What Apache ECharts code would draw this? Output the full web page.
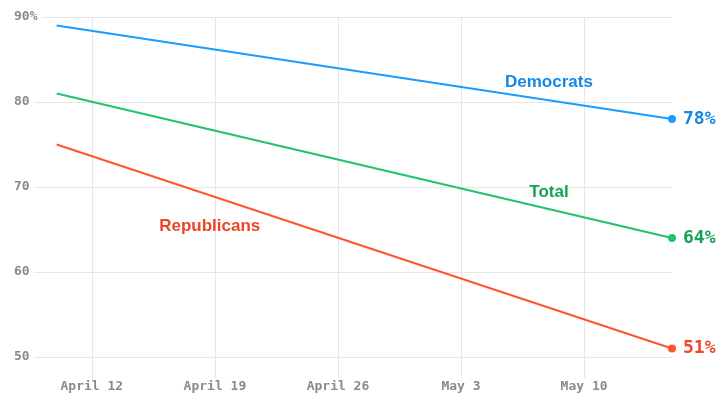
<!DOCTYPE html>
<html>
<head>
<meta charset="utf-8">
<script src="https://cdn.jsdelivr.net/npm/echarts@6/dist/echarts.min.js"></script>
<style>
  html, body { margin: 0; padding: 0; background: #fff; }
  #chart { width: 725px; height: 394px; }
</style>
</head>
<body>
<div id="chart"></div>
<script>
// Poll dates and support shares (%)
const pollDates = ['2020-04-10', '2020-05-15'];
const democrats = [89, 78];
const total = [81, 64];
const republicans = [75, 51];

// X-axis ticks
const tickDates = ['2020-04-12', '2020-04-19', '2020-04-26', '2020-05-03', '2020-05-10'];
const tickLabels = ['April 12', 'April 19', 'April 26', 'May 3', 'May 10'];

// Y-axis ticks
const yTicks = [50, 60, 70, 80, 90];

// Series name labels: [date, hour, value] anchors
const nameAnchors = {
  Democrats: ['2020-05-08', 0, 82.35],
  Total: ['2020-05-08', 0, 69.35],
  Republicans: ['2020-04-18', 17, 65.35]
};

const DAY = 86400000;
const origin = Date.UTC(2020, 3, 1);
const toDay = (s, hour) => {
  const [y, m, d] = s.split('-').map(Number);
  return (Date.UTC(y, m - 1, d, hour || 0) - origin) / DAY;
};
const tickDays = tickDates.map(d => toDay(d));
const labelByDay = {};
tickDays.forEach((d, i) => { labelByDay[d] = tickLabels[i]; });

const COLORS = {
  Democrats: { line: '#1a9bff', text: '#1787e6' },
  Total: { line: '#1fc46c', text: '#15a158' },
  Republicans: { line: '#ff5432', text: '#ef4526' }
};

function buildSeries(name, values) {
  const c = COLORS[name];
  const last = values.length - 1;
  const a = nameAnchors[name];
  return {
    name: name,
    type: 'line',
    data: values.map((v, i) => ({
      value: [toDay(pollDates[i]), v],
      symbol: i === last ? 'circle' : 'none',
      label: i === last ? {
        show: true,
        position: 'right',
        distance: 7,
        formatter: p => p.value[1] + '%',
        color: c.text,
        fontFamily: 'DejaVu Sans Mono',
        fontWeight: 'bold',
        fontSize: 18,
        padding: [2, 0, 0, 0]
      } : { show: false }
    })),
    symbolSize: 8,
    itemStyle: { color: c.line },
    lineStyle: { color: c.line, width: 2 },
    silent: true,
    markPoint: {
      symbol: 'circle',
      symbolSize: 0,
      silent: true,
      label: {
        show: true,
        position: 'inside',
        formatter: name,
        color: c.text,
        fontFamily: 'Liberation Sans',
        fontWeight: 'bold',
        fontSize: 17
      },
      data: [{ coord: [toDay(a[0], a[1]), a[2]] }]
    }
  };
}

const firstTick = tickDays[0];
const chart = echarts.init(document.getElementById('chart'), null, { renderer: 'canvas' });
chart.setOption({
  animation: false,
  backgroundColor: '#fff',
  grid: { left: 34, right: 53, top: 17, bottom: 37, containLabel: false },
  xAxis: {
    type: 'value',
    min: firstTick - 3.29,
    max: toDay(pollDates[1]),
    axisLine: { show: false },
    axisTick: {
      show: true,
      length: 21,
      customValues: tickDays,
      lineStyle: { color: '#e6e6e6', width: 1 }
    },
    splitLine: { show: true, lineStyle: { color: '#e6e6e6', width: 1 } },
    axisLabel: {
      customValues: tickDays,
      margin: 23,
      formatter: v => labelByDay[v] || '',
      color: '#8a8a8a',
      fontFamily: 'DejaVu Sans Mono',
      fontWeight: 'bold',
      fontSize: 13
    }
  },
  yAxis: {
    type: 'value',
    min: 50,
    max: 90,
    interval: 10,
    axisLine: { show: false },
    axisTick: { show: false },
    splitLine: { show: true, lineStyle: { color: '#e6e6e6', width: 1 } },
    axisLabel: {
      align: 'left',
      margin: 20,
      formatter: v => (v === yTicks[yTicks.length - 1] ? v + '%' : String(v)),
      color: '#8a8a8a',
      fontFamily: 'DejaVu Sans Mono',
      fontWeight: 'bold',
      fontSize: 13,
      backgroundColor: '#fff',
      padding: [3, 4, 0, 0]
    }
  },
  series: [
    buildSeries('Democrats', democrats),
    buildSeries('Total', total),
    buildSeries('Republicans', republicans)
  ]
});
</script>
</body>
</html>
